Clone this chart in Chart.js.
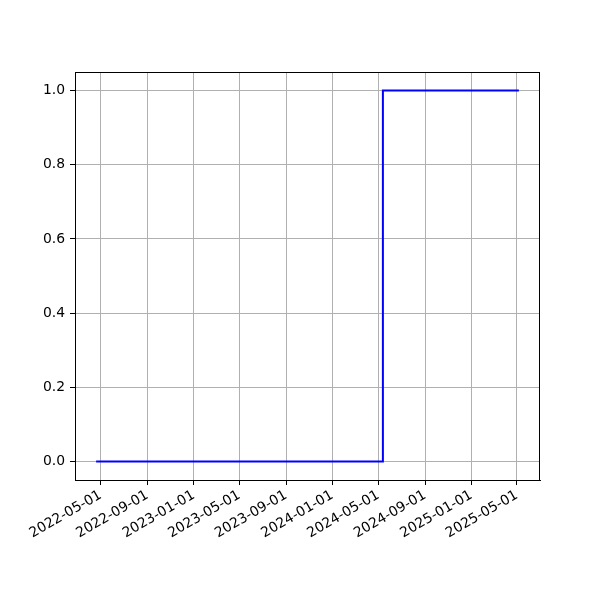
<!DOCTYPE html>
<html>
<head>
<meta charset="utf-8">
<script src="https://cdn.jsdelivr.net/npm/chart.js@4/dist/chart.umd.min.js"></script>
<style>
  html, body { margin: 0; padding: 0; background: #fff; }
  #wrap { width: 600px; height: 600px; }
</style>
</head>
<body>
<div id="wrap"><canvas id="chart" width="600" height="600"></canvas></div>
<script>
// step series: value holds until the next date
const stepDates = ['2022-04-19', '2024-05-13', '2025-05-06'];
const stepValues = [0, 1, 1];

const xTickDates = ['2022-05-01', '2022-09-01', '2023-01-01', '2023-05-01', '2023-09-01',
  '2024-01-01', '2024-05-01', '2024-09-01', '2025-01-01', '2025-05-01'];
const yTickValues = [0, 0.2, 0.4, 0.6, 0.8, 1.0];

const toMs = (s) => Date.parse(s + 'T00:00:00Z');
const fmtDate = (v) => new Date(v).toISOString().slice(0, 10);

const points = stepDates.map((d, i) => ({ x: toMs(d), y: stepValues[i] }));
const xs = points.map((p) => p.x);
const xMin = Math.min(...xs);
const xMax = Math.max(...xs);
const xPad = (xMax - xMin) * 0.05;

const font = { family: 'DejaVu Sans', size: 13.9 };

const frame = {
  id: 'frame',
  afterDraw(chart) {
    const { ctx, chartArea: a } = chart;
    ctx.save();
    ctx.strokeStyle = '#000';
    ctx.lineWidth = 1;
    ctx.strokeRect(a.left + 0.5, a.top + 0.5, a.right - a.left - 1, a.bottom - a.top);
    ctx.restore();
  }
};

new Chart(document.getElementById('chart'), {
  type: 'line',
  data: {
    datasets: [{
      data: points,
      borderColor: '#0000ff',
      borderWidth: 2,
      pointRadius: 0,
      fill: false,
      stepped: true,
    }]
  },
  options: {
    responsive: false,
    animation: false,
    layout: { padding: { left: 0, right: 60, top: 72, bottom: 0 } },
    plugins: { legend: { display: false }, tooltip: { enabled: false } },
    scales: {
      x: {
        type: 'linear',
        min: xMin - xPad,
        max: xMax + xPad,
        afterBuildTicks: (scale) => {
          scale.ticks = xTickDates.map((d) => ({ value: toMs(d) }));
        },
        afterFit: (scale) => { scale.height = 120; },
        ticks: {
          autoSkip: false,
          minRotation: 30,
          maxRotation: 30,
          padding: 2,
          color: '#000',
          font,
          callback: (v) => fmtDate(v),
        },
        grid: {
          color: '#b0b0b0',
          lineWidth: 1,
          tickColor: '#000',
          tickLength: 5,
        },
        border: { color: '#000' },
      },
      y: {
        min: -0.05,
        max: 1.05,
        afterBuildTicks: (scale) => {
          scale.ticks = yTickValues.map((v) => ({ value: v }));
        },
        afterFit: (scale) => { scale.width = 75; },
        ticks: {
          padding: 5,
          color: '#000',
          font,
          callback: (v) => v.toFixed(1),
        },
        grid: {
          color: '#b0b0b0',
          lineWidth: 1,
          tickColor: '#000',
          tickLength: 5,
        },
        border: { color: '#000' },
      }
    }
  },
  plugins: [frame]
});
</script>
</body>
</html>
